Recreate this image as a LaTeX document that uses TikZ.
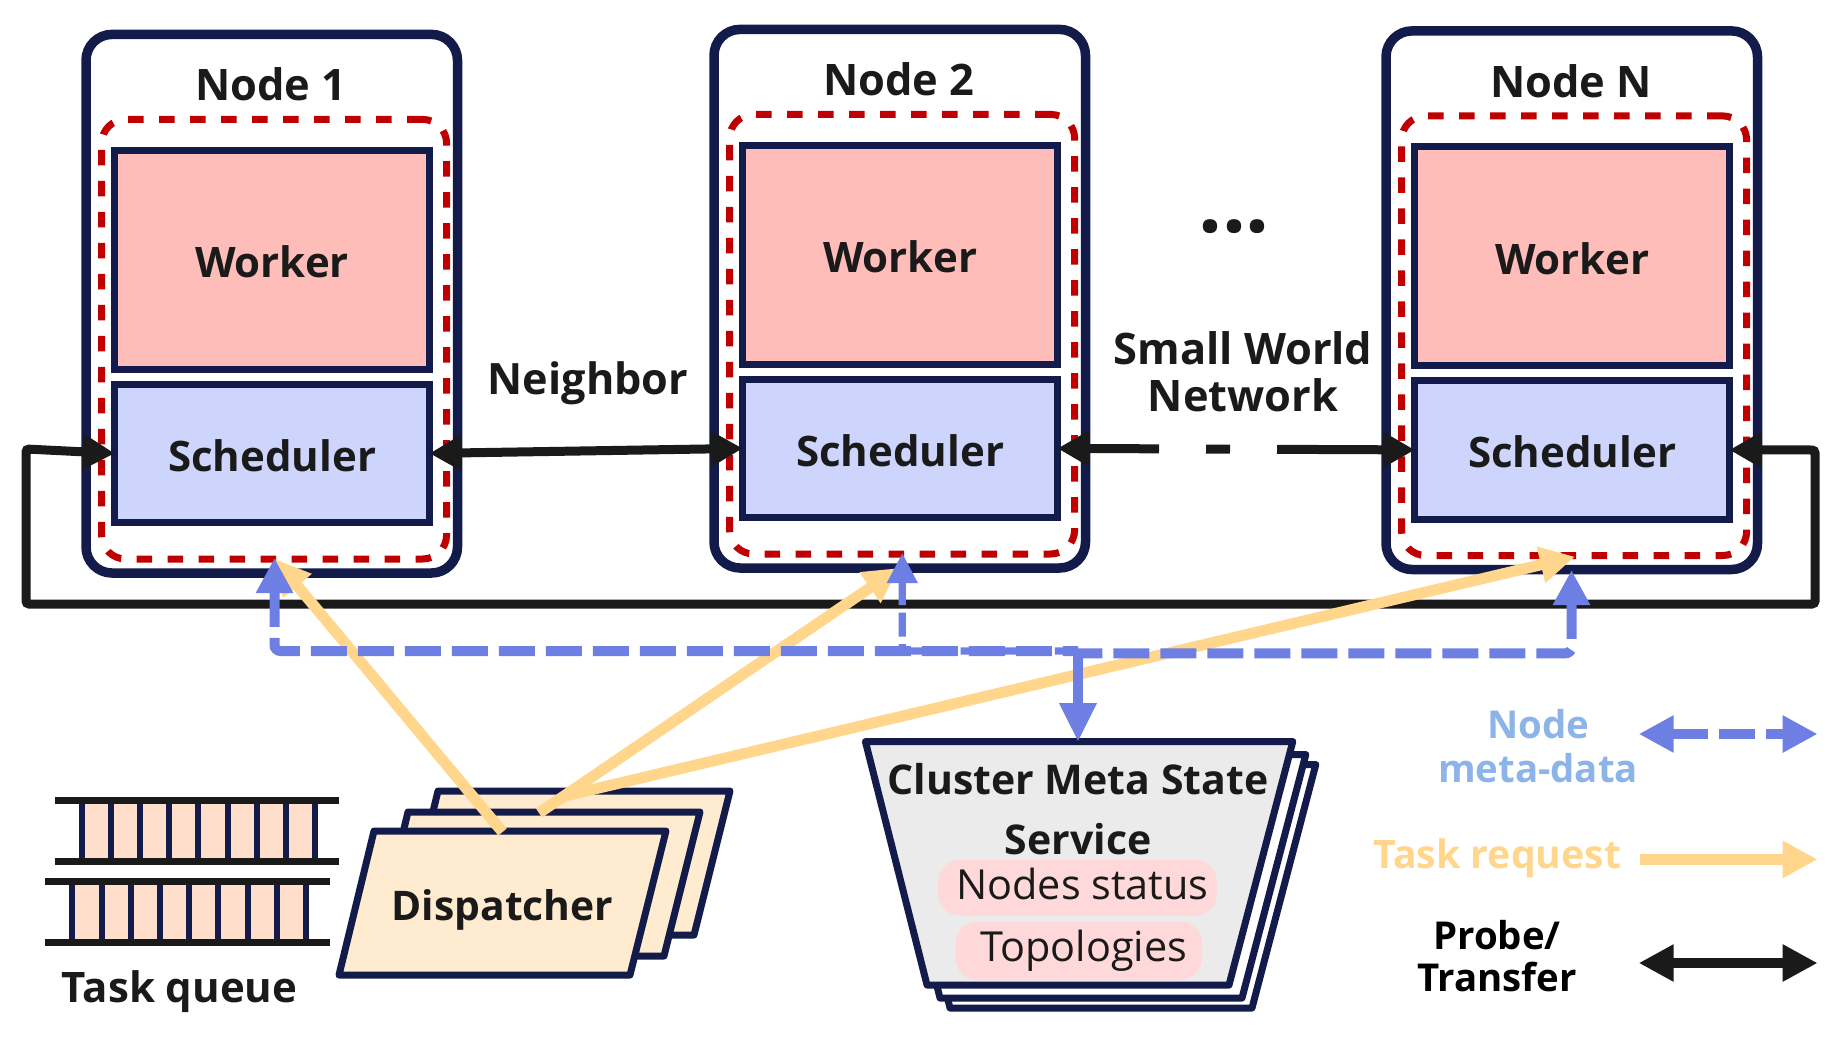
\documentclass[tikz,border=0pt]{standalone}
\usepackage{fontspec}
\setmainfont{Open Sans}
\usetikzlibrary{%
	calc,%
	arrows.meta
}
\definecolor{navy}{HTML}{131B4B}
\definecolor{darkred}{HTML}{C00000}
\definecolor{workerfill}{HTML}{FFBDBA}
\definecolor{schedfill}{HTML}{CDD5FC}
\definecolor{inkblack}{HTML}{1A1A1A}
\definecolor{metablue}{HTML}{6D7FE3}
\definecolor{metatext}{HTML}{8DB4E8}
\definecolor{reqyellow}{HTML}{FFD68C}
\definecolor{dispfill}{HTML}{FFEBCF}
\definecolor{queuefill}{HTML}{FFDFCC}
\definecolor{cmsfill}{HTML}{EBEBEB}
\definecolor{pillfill}{HTML}{FFD9D9}
\tikzset{
	txt/.style={font=\fontsize{#1}{24}\selectfont\bfseries,text=inkblack},
	txt/.default=20.5,
	hostbox/.style={draw=navy,line width=4.75pt,rounded corners=13pt,minimum width=185.75pt,minimum height=269.3pt,outer sep=0pt},
	redbox/.style={draw=darkred,line width=3.5pt,rounded corners=12pt,dash pattern=on 7.75pt off 7.75pt,minimum width=172.5pt,minimum height=219.8pt,outer sep=0pt},
	workerbox/.style={draw=navy,fill=workerfill,line width=3.5pt,minimum width=157.3pt,minimum height=109.5pt,outer sep=0pt,txt=21,text height=18pt,text depth=0pt},
	schedbox/.style={draw=navy,fill=schedfill,line width=3.5pt,minimum width=157.3pt,minimum height=69.35pt,outer sep=0pt,txt=21,text height=18pt,text depth=0pt},
	wire/.style={draw=inkblack,line width=4.5pt,{Triangle[length=16pt,width=17pt]}-{Triangle[length=16pt,width=17pt]}},
	request/.style={draw=reqyellow,line width=5.5pt,-{Triangle[length=17.5pt,width=17.5pt]}},
	meta/.style={draw=metablue,line width=5pt,rounded corners=3pt,dash pattern=on 18pt off 5.5pt},
	metatip/.style={meta,{Triangle[length=17.5pt,width=17.5pt]}-},
	pill/.style={fill=pillfill,rounded corners=11pt,inner sep=0pt,font=\fontsize{20.7}{24}\selectfont,text=inkblack}
}
\begin{document}
\begin{tikzpicture}[x=0.5pt,y=-0.5pt]
	\useasboundingbox (0,0) rectangle (1847,1044);
	% the three cluster nodes
	\foreach \id/\dx/\dy/\name in {1/0/0/Node 1,2/628/-5/Node 2,N/1300/-3.5/Node N}{
		\begin{scope}[shift={(\dx,\dy)}]
			\node[hostbox] (host\id) at (271.75,303.7) {};
			\node[redbox] (red\id) at (274.1,339.2) {};
			\node[workerbox] (work\id) at (272.1,259.5) {Worker};
			\node[schedbox] (sched\id) at (272.1,453.4) {Scheduler};
			\node[txt=21.7] (title\id) at (271,84.5) {\name};
		\end{scope}
	}
	\node[txt=21.6] (neighbor) at (588,383) {Neighbor};
	\node[txt=21.7,align=center] (smallworld) at (1243,372) {Small World\\[-0.5pt]Network};
	\node[txt=42,inner sep=0pt] (dots) at (1234,227) {...};
	% task queues
	\foreach \qx/\qy/\qn in {0/0/up,-9.2/81/low}{
		\begin{scope}[shift={(\qx,\qy)}]
			\fill[queuefill] (81.6,800) rectangle (315.3,861);
			\foreach \k in {0,...,8}
			\draw[navy,line width=3pt] ({81.6+29.2*\k},800) -- ({81.6+29.2*\k},861);
			\draw[inkblack,line width=3.5pt] (54.6,800.3) -- (339,800.3);
			\draw[inkblack,line width=3.5pt] (54.6,861.3) -- (339,861.3);
		\end{scope}
	}
	\node[txt=21] (queue) at (179.6,991.5) {Task queue};
	% dispatcher stack
	\foreach \dx/\dy in {64/-40,34/-19,0/0}
	\draw[navy,fill=dispfill,line width=3.5pt,line join=round,shift={(\dx,\dy)}] (339,975) -- (630,975) -- (666,831) -- (374,831) -- cycle;
	\node[txt=20.4] (disp) at (502.5,910) {Dispatcher};
	% state service stack
	\foreach \dx/\dy in {23/23,13/13}
	\draw[navy,fill=white,line width=3.5pt,line join=round,shift={(\dx,\dy)}] (865.4,741.5) -- (1292.8,741.5) -- (1229,985) -- (927,985) -- cycle;
	\draw[navy,fill=cmsfill,line width=3.5pt,line join=round] (865.4,741.5) -- (1292.8,741.5) -- (1229,985) -- (927,985) -- cycle;
	\node[txt] (cmsa) at (1078,779) {Cluster Meta State};
	\node[txt] (cmsb) at (1078,839) {Service};
	\node[pill,minimum width=139.5pt,minimum height=27.75pt,text height=12pt,text depth=0pt] (status) at (1077.5,887.75) {\hspace*{5pt}Nodes status};
	\node[pill,minimum width=123.2pt,minimum height=29.25pt] (topo) at (1078.8,950.75) {\hspace*{5pt}Topologies};
	% black links
	\coordinate (loopa) at (26,449);
	\coordinate (loopb) at (26,604);
	\coordinate (loopc) at (1815,604);
	\coordinate (loopd) at (1815,450);
	\draw[wire] (sched1.east) -- (sched2.west);
	\draw[wire,dash pattern=on 35.8pt off 23.5pt on 12pt off 23.5pt on 100pt] (sched2.east) -- (schedN.west);
	\draw[wire,rounded corners=1.5pt] (sched1.west) -- (loopa) -- (loopb) -- (loopc) -- (loopd) -- (schedN.east);
	% task requests
	\coordinate (reqa) at (275,559);
	\coordinate (reqb) at (899,568);
	\coordinate (reqc) at (1575,556.7);
	\coordinate (starta) at (502.5,832);
	\coordinate (startb) at (539,813);
	\coordinate (startc) at (565,796);
	\draw[request] (starta) -- (reqa);
	\draw[request] (startb) -- (reqb);
	\draw[request] (startc) -- (reqc);
	% node meta-data
	\coordinate (metaa) at (274.5,558);
	\coordinate (metab) at (902.3,553);
	\coordinate (metac) at (1571.5,570);
	\coordinate (cornera) at (274.5,651);
	\coordinate (cornerb) at (902.3,651);
	\coordinate (cornerc) at (1571.5,653.3);
	\coordinate (junction) at (1078,651);
	\coordinate (junctionb) at (1078,653.3);
	\coordinate (cmstop) at (1078,742);
	\draw[metatip] (metaa) -- (cornera) -- (junction);
	\draw[metatip] (metac) -- (cornerc) -- (junctionb);
	\draw[draw=metablue,line width=3.6pt,rounded corners=3pt,dash pattern=on 12pt off 3.7pt,{Triangle[length=15pt,width=14.5pt]}-] (metab) -- (cornerb) -- (junction);
	\draw[draw=metablue,line width=5pt,-{Triangle[length=19.5pt,width=17.5pt]}] (junction) -- (cmstop);
	% legend
	\coordinate (lega) at (1638.7,734);
	\coordinate (legb) at (1817.6,734);
	\coordinate (legc) at (1640,859.4);
	\coordinate (legd) at (1817.6,859.4);
	\coordinate (lege) at (1638.7,963);
	\coordinate (legf) at (1817.6,963);
	\draw[meta,{Triangle[length=17.5pt,width=17.5pt]}-{Triangle[length=17.5pt,width=17.5pt]}] (lega) -- (legb);
	\draw[request] (legc) -- (legd);
	\draw[wire,line width=5pt,{Triangle[length=17.5pt,width=17.5pt]}-{Triangle[length=17.5pt,width=17.5pt]}] (lege) -- (legf);
	\node[txt=19.2,text=metatext,align=center] (legmeta) at (1538,746) {Node\\[-2pt]meta-data};
	\node[txt=19.6,text=reqyellow] (legreq) at (1497.5,858) {Task request};
	\node[txt=19.2,text=black,align=center] (legprobe) at (1497,956) {Probe/\\[-3pt]Transfer};
\end{tikzpicture}
\end{document}
